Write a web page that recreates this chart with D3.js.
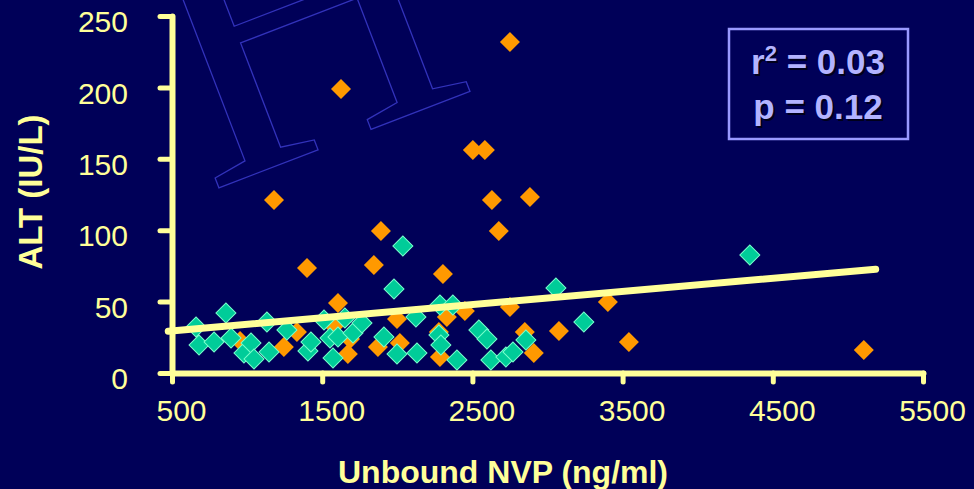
<!DOCTYPE html>
<html><head><meta charset="utf-8">
<script src="https://cdn.jsdelivr.net/npm/d3@7"></script>
<style>html,body{margin:0;padding:0;background:#000058;overflow:hidden}</style>
</head><body><svg id="c" width="974" height="489"></svg>
<script>
const xTicks = [500, 1500, 2500, 3500, 4500, 5500];
const yTicks = [0, 50, 100, 150, 200, 250];
const greenX = [660,680,780,859,893,979,1026,1046,1132,1146,1265,1405,1425,1512,1552,1572,1605,1651,1705,1765,1911,1978,1998,2037,2124,2131,2277,2284,2290,2370,2397,2543,2597,2623,2723,2770,2856,3056,3242,4347];
const greenY = [32.2,19.6,21.7,42.0,24.5,14.0,21.0,9.8,35.7,14.7,30.1,15.4,21.7,37.1,24.5,10.5,25.2,38.5,28.0,35.0,25.2,58.8,13.3,88.9,39.2,14.0,26.6,47.6,19.6,47.6,9.1,30.1,23.8,9.1,11.2,14.7,23.1,59.5,35.7,82.6];
const orangeX = [953,1179,1245,1332,1399,1578,1605,1625,1671,1685,1844,1871,1891,1998,2017,2277,2284,2304,2330,2450,2503,2583,2630,2676,2750,2750,2849,2883,2909,3076,3402,3542,5106];
const orangeY = [22.4,121.1,18.2,28.7,73.5,32.9,49.0,198.9,13.3,23.8,75.6,18.2,99.4,37.8,21.0,28.7,11.2,69.3,39.2,43.4,156.2,156.2,121.1,99.4,231.8,46.2,28.7,123.2,14.0,29.4,49.7,21.7,16.1];
const fitX = [475, 5185];
const fitY = [29.3, 72.6];
const xTitle = "Unbound NVP (ng/ml)";
const yTitle = "ALT (IU/L)";
const statR = ["r", "2", " = 0.03"];
const statP = "p = 0.12";

const W = 974, H = 489;
const fg = "#ffff99";
const svg = d3.select("#c");
svg.append("rect").attr("width", W).attr("height", H).attr("fill", "#000058");

// watermark
svg.append("g").attr("transform", "translate(208,192) rotate(-21)")
  .append("text").attr("x", 0).attr("y", 0)
  .attr("font-family", "Liberation Serif").attr("font-size", 405)
  .attr("fill", "none").attr("stroke", "#3232bb").attr("stroke-width", 1.3)
  .text("H");

const x = d3.scaleLinear().domain([500, 5500]).range([172, 923]);
const y = d3.scaleLinear().domain([0, 250]).range([373, 16]);

const orange = orangeX.map((v, i) => ({x: v, y: orangeY[i]}));
const green = greenX.map((v, i) => ({x: v, y: greenY[i]}));
const sym = d3.symbol().type(d3.symbolSquare).size(200);

svg.append("g").selectAll("path").data(orange).join("path")
  .attr("d", sym).attr("fill", "#ff9900")
  .attr("transform", d => `translate(${x(d.x)},${y(d.y)}) rotate(45)`);
svg.append("g").selectAll("path").data(green).join("path")
  .attr("d", sym).attr("fill", "#00cc99").attr("stroke", "#77ffcc").attr("stroke-width", 1)
  .attr("transform", d => `translate(${x(d.x)},${y(d.y)}) rotate(45)`);

// axes
const xAxis = svg.append("g").attr("transform", `translate(0,${y(0)})`)
  .call(d3.axisBottom(x).tickValues(xTicks).tickSize(9).tickSizeOuter(0).tickFormat(d3.format("d")).tickPadding(20));
const yAxis = svg.append("g").attr("transform", `translate(${x(500)},0)`)
  .call(d3.axisLeft(y).tickValues(yTicks).tickSize(12).tickSizeOuter(0).tickPadding(32));
[xAxis, yAxis].forEach(a => {
  a.select(".domain").attr("stroke", fg).attr("stroke-width", 6).attr("stroke-linecap", "round");
  a.selectAll(".tick line").attr("stroke", fg).attr("stroke-width", 5).attr("stroke-linecap", "round");
  a.selectAll(".tick text").attr("fill", fg).attr("font-family", "Liberation Sans, Arial, sans-serif").attr("font-size", 30);
});
xAxis.selectAll(".tick text").attr("dx", 9).attr("dy", "0.62em");
yAxis.selectAll(".tick text").attr("x", -44).attr("dy", "0.52em");

// regression line
svg.append("line")
  .attr("x1", x(fitX[0])).attr("y1", y(fitY[0]))
  .attr("x2", x(fitX[1])).attr("y2", y(fitY[1]))
  .attr("stroke", fg).attr("stroke-width", 7).attr("stroke-linecap", "round");

// titles
svg.append("text").attr("x", 503).attr("y", 483).attr("text-anchor", "middle")
  .attr("font-family", "Liberation Sans, Arial, sans-serif").attr("font-weight", "bold")
  .attr("font-size", 32).attr("fill", fg).text(xTitle);
svg.append("text").attr("transform", "translate(42,192) rotate(-90)").attr("text-anchor", "middle")
  .attr("font-family", "Liberation Sans, Arial, sans-serif").attr("font-weight", "bold")
  .attr("font-size", 33).attr("fill", fg).text(yTitle);

// stats box
svg.append("rect").attr("x", 729).attr("y", 29).attr("width", 179).attr("height", 110)
  .attr("fill", "none").attr("stroke", "#9999ff").attr("stroke-width", 2.5);
function statText(dx, dy, color) {
  const g = svg.append("g").attr("font-family", "Liberation Sans, Arial, sans-serif")
    .attr("font-weight", "bold").attr("font-size", 35).attr("fill", color).attr("text-anchor", "middle");
  const t1 = g.append("text").attr("x", 818 + dx).attr("y", 74 + dy);
  t1.append("tspan").text(statR[0]);
  t1.append("tspan").attr("font-size", 22).attr("dy", -13).text(statR[1]);
  t1.append("tspan").attr("dy", 13).text(statR[2]);
  g.append("text").attr("x", 818 + dx).attr("y", 119 + dy).text(statP);
}
statText(2, 2, "#00001a");
statText(0, 0, "#b3b3ff");
</script></body></html>
